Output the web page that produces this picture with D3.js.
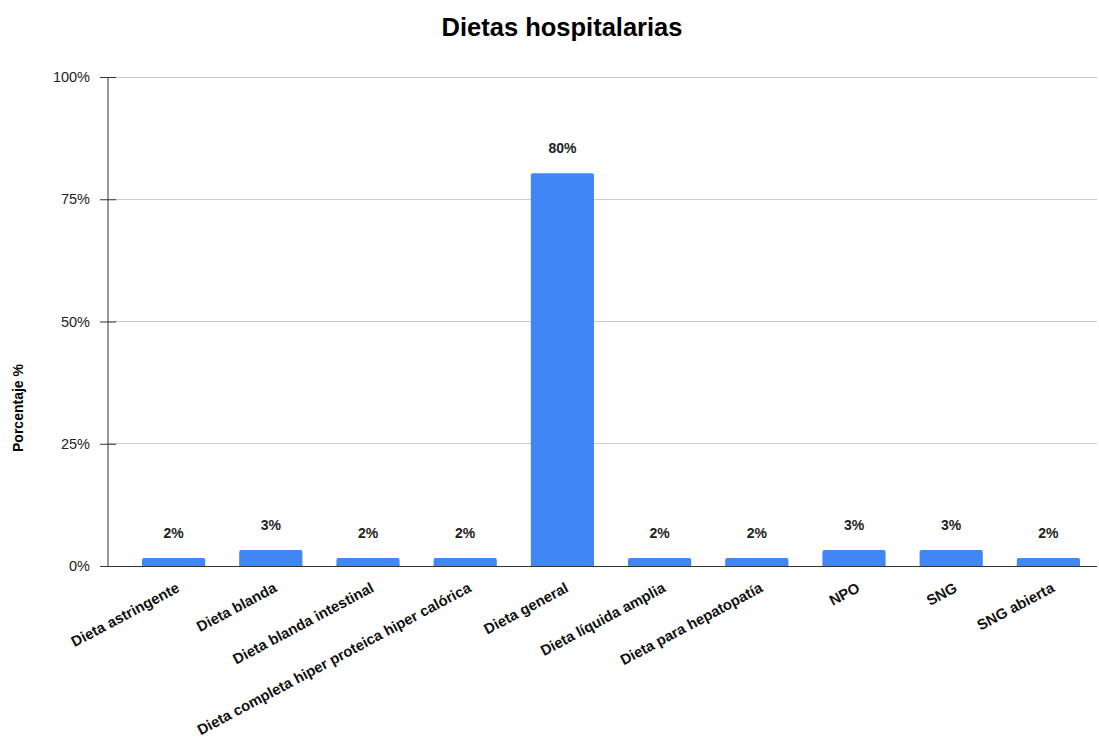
<!DOCTYPE html>
<html>
<head>
<meta charset="utf-8">
<script src="https://cdn.jsdelivr.net/npm/d3@7"></script>
<style>
  html, body { margin: 0; padding: 0; background: #fff; }
  svg { display: block; font-family: "Liberation Sans", Arial, sans-serif; }
</style>
</head>
<body>
<svg id="chart" width="1099" height="744"></svg>
<script>
// Hospital diet distribution (share of patients, %)
const categories = [
  "Dieta astringente",
  "Dieta blanda",
  "Dieta blanda intestinal",
  "Dieta completa hiper proteica hiper calórica",
  "Dieta general",
  "Dieta líquida amplia",
  "Dieta para hepatopatía",
  "NPO",
  "SNG",
  "SNG abierta"
];
const values = [1.64, 3.28, 1.64, 1.64, 80.33, 1.64, 1.64, 3.28, 3.28, 1.64];
const yTicks = [0, 25, 50, 75, 100];
const yTickLabels = ["0%", "25%", "50%", "75%", "100%"];

const svg = d3.select("#chart");
const axisX = 108, plotLeft = 125, plotRight = 1097, plotTop = 77, plotBottom = 566;

const x = d3.scaleBand().domain(categories).range([plotLeft, plotRight]).paddingInner(0.35).paddingOuter(0.175);
const y = d3.scaleLinear().domain([0, 100]).range([plotBottom, plotTop]);

// Title
svg.append("text")
  .attr("x", 562).attr("y", 36)
  .attr("text-anchor", "middle")
  .attr("font-size", 25.5).attr("font-weight", "bold").attr("fill", "#000")
  .text("Dietas hospitalarias");

// Gridlines
svg.append("g").selectAll("line").data(yTicks.filter(d => d > 0)).join("line")
  .attr("x1", axisX).attr("x2", plotRight)
  .attr("y1", d => y(d)).attr("y2", d => y(d))
  .attr("stroke", "#cccccc").attr("stroke-width", 1).attr("shape-rendering", "crispEdges");

// Y axis
const yAxis = d3.axisLeft(y).tickValues(yTicks).tickFormat((d, i) => yTickLabels[i]).tickSize(8).tickPadding(10);
const gy = svg.append("g").attr("transform", `translate(${axisX},0)`).call(yAxis);
gy.select(".domain").attr("stroke", "#333").attr("d", `M0,${plotTop}V${plotBottom}`);
gy.selectAll(".tick line").attr("stroke", "#333").attr("x2", 8).attr("x1", -8);
gy.selectAll(".tick text").attr("font-size", 14.5).attr("fill", "#222").attr("font-family", "Liberation Sans, Arial, sans-serif");

// Y axis title
svg.append("text")
  .attr("transform", "translate(23,408) rotate(-90)")
  .attr("text-anchor", "middle")
  .attr("font-size", 14).attr("font-weight", "bold").attr("fill", "#000")
  .text("Porcentaje %");

// Bars with rounded top corners
const r = 2;
svg.append("g").selectAll("path").data(values).join("path")
  .attr("fill", "#4285f4")
  .attr("d", (d, i) => {
    const x0 = x(categories[i]), w = x.bandwidth(), y0 = y(d), h = plotBottom - y0;
    const rr = Math.min(r, h / 2);
    return `M${x0},${plotBottom}V${y0 + rr}Q${x0},${y0} ${x0 + rr},${y0}H${x0 + w - rr}Q${x0 + w},${y0} ${x0 + w},${y0 + rr}V${plotBottom}Z`;
  });

// X baseline
svg.append("line")
  .attr("x1", axisX).attr("x2", plotRight).attr("y1", plotBottom).attr("y2", plotBottom)
  .attr("stroke", "#333").attr("stroke-width", 1).attr("shape-rendering", "crispEdges");

// Value labels
svg.append("g").selectAll("text").data(values).join("text")
  .attr("x", (d, i) => x(categories[i]) + x.bandwidth() / 2)
  .attr("y", d => y(d) - 20)
  .attr("text-anchor", "middle")
  .attr("font-size", 14).attr("font-weight", "bold").attr("fill", "#222")
  .text(d => Math.round(d) + "%");

// Category labels, rotated
svg.append("g").selectAll("text").data(categories).join("text")
  .attr("transform", d => `translate(${x(d) + x.bandwidth() / 2 + 7},${plotBottom + 25}) rotate(-28)`)
  .attr("text-anchor", "end")
  .attr("font-size", 14.8).attr("font-weight", "bold").attr("fill", "#111")
  .text(d => d);
</script>
</body>
</html>
